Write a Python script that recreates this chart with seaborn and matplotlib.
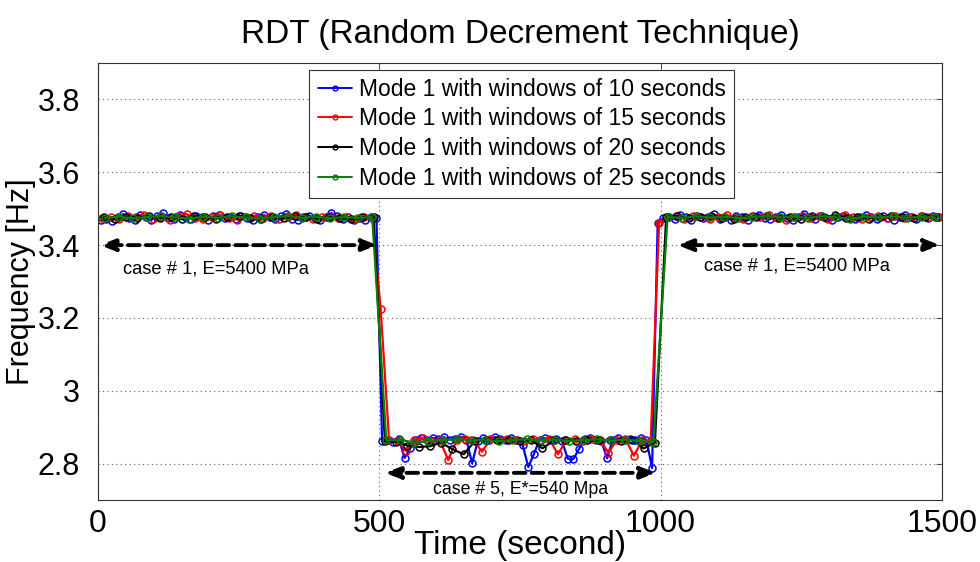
import numpy as np
import pandas as pd
import matplotlib
matplotlib.use("Agg")
import matplotlib.pyplot as plt
from matplotlib.lines import Line2D
import seaborn as sns

# Window centre times (s) for each window length
t_10 = np.arange(5, 1500, 10)
t_15 = np.arange(7.5, 1500, 15)
t_20 = np.arange(10, 1500, 20)
t_25 = np.arange(12.5, 1500, 25)

# Identified first-mode frequency (Hz), windows of 10 s
freq_10s = [
    3.468, 3.472, 3.466, 3.478, 3.485, 3.474, 3.470, 3.482, 3.476, 3.469,
    3.480, 3.487, 3.475, 3.471, 3.483, 3.478, 3.473, 3.481, 3.476, 3.470,
    3.479, 3.484, 3.474, 3.477, 3.472, 3.480, 3.475, 3.468, 3.478, 3.483,
    3.476, 3.471, 3.479, 3.485, 3.473, 3.469, 3.477, 3.481, 3.474, 3.470,
    3.478, 3.488, 3.479, 3.472, 3.476, 3.468, 3.474, 3.470, 3.477, 3.475,
    2.862, 2.866, 2.860, 2.868, 2.816, 2.842, 2.866, 2.870, 2.864, 2.871,
    2.868, 2.873, 2.866, 2.869, 2.874, 2.866, 2.801, 2.862, 2.870, 2.866,
    2.873, 2.868, 2.864, 2.870, 2.866, 2.851, 2.791, 2.827, 2.866, 2.870,
    2.864, 2.868, 2.862, 2.814, 2.813, 2.840, 2.868, 2.871, 2.866, 2.862,
    2.815, 2.866, 2.870, 2.864, 2.868, 2.866, 2.870, 2.866, 2.788, 3.462,
    3.474, 3.478, 3.471, 3.483, 3.476, 3.469, 3.480, 3.474, 3.478, 3.485,
    3.472, 3.477, 3.470, 3.481, 3.476, 3.468, 3.479, 3.484, 3.474, 3.471,
    3.477, 3.482, 3.475, 3.470, 3.478, 3.486, 3.476, 3.472, 3.479, 3.474,
    3.469, 3.477, 3.481, 3.475, 3.471, 3.478, 3.483, 3.476, 3.473, 3.480,
    3.475, 3.470, 3.478, 3.484, 3.476, 3.472, 3.479, 3.475, 3.481, 3.476,
]

# Windows of 15 s
freq_15s = [
    3.474, 3.478, 3.471, 3.480, 3.476, 3.483, 3.473, 3.477, 3.470, 3.479,
    3.485, 3.475, 3.472, 3.478, 3.482, 3.474, 3.470, 3.477, 3.481, 3.475,
    3.479, 3.473, 3.476, 3.483, 3.478, 3.471, 3.476, 3.480, 3.474, 3.477,
    3.472, 3.478, 3.475, 3.225,
    2.864, 2.862, 2.835, 2.866, 2.870, 2.862, 2.866, 2.810, 2.864, 2.868,
    2.865, 2.833, 2.867, 2.864, 2.869, 2.866, 2.862, 2.867, 2.864, 2.868,
    2.826, 2.864, 2.867, 2.863, 2.868, 2.865, 2.830, 2.866, 2.869, 2.822,
    2.864, 2.862, 3.462,
    3.476, 3.479, 3.473, 3.481, 3.477, 3.471, 3.478, 3.483, 3.475, 3.472,
    3.479, 3.476, 3.482, 3.474, 3.470, 3.477, 3.480, 3.475, 3.479, 3.473,
    3.476, 3.482, 3.477, 3.472, 3.478, 3.481, 3.475, 3.479, 3.474, 3.477,
    3.480, 3.476, 3.478,
]

# Windows of 20 s
freq_20s = [
    3.476, 3.473, 3.478, 3.475, 3.480, 3.474, 3.477, 3.471, 3.479, 3.476,
    3.473, 3.478, 3.481, 3.475, 3.472, 3.477, 3.474, 3.479, 3.476, 3.473,
    3.478, 3.475, 3.471, 3.476, 3.477,
    2.862, 2.860, 2.850, 2.846, 2.848, 2.858, 2.840, 2.826, 2.862, 2.866,
    2.864, 2.866, 2.862, 2.866, 2.842, 2.864, 2.866, 2.863, 2.866, 2.864,
    2.866, 2.863, 2.866, 2.842, 2.858,
    3.476, 3.479, 3.474, 3.477, 3.481, 3.475, 3.472, 3.478, 3.476, 3.480,
    3.474, 3.477, 3.473, 3.479, 3.476, 3.482, 3.475, 3.478, 3.473, 3.477,
    3.480, 3.476, 3.474, 3.478, 3.477,
]

# Windows of 25 s
freq_25s = [
    3.475, 3.478, 3.474, 3.477, 3.480, 3.476, 3.473, 3.478, 3.475, 3.479,
    3.476, 3.473, 3.477, 3.480, 3.475, 3.478, 3.474, 3.477, 3.475, 3.477,
    2.864, 2.866, 2.858, 2.862, 2.865, 2.867, 2.864, 2.866, 2.862, 2.865,
    2.867, 2.864, 2.866, 2.863, 2.865, 2.867, 2.864, 2.866, 2.863, 2.860,
    3.477, 3.475, 3.479, 3.476, 3.478, 3.474, 3.477, 3.480, 3.476, 3.478,
    3.475, 3.479, 3.476, 3.473, 3.478, 3.476, 3.479, 3.475, 3.477, 3.476,
]

labels = [
    "Mode 1 with windows of 10 seconds",
    "Mode 1 with windows of 15 seconds",
    "Mode 1 with windows of 20 seconds",
    "Mode 1 with windows of 25 seconds",
]
colors = ["#0000ff", "#ff0000", "#000000", "#008000"]

x_ticks = [0, 500, 1000, 1500]
y_ticks = [2.8, 3.0, 3.2, 3.4, 3.6, 3.8]
y_tick_labels = ["2.8", "3", "3.2", "3.4", "3.6", "3.8"]

df = pd.concat(
    [
        pd.DataFrame({"time": t, "freq": f, "series": lab})
        for t, f, lab in zip([t_10, t_15, t_20, t_25],
                             [freq_10s, freq_15s, freq_20s, freq_25s], labels)
    ],
    ignore_index=True,
)

sns.set_style("white")
plt.rcParams["font.family"] = ["Liberation Sans", "DejaVu Sans"]
plt.rcParams["text.color"] = "black"
plt.rcParams["axes.labelcolor"] = "black"
plt.rcParams["xtick.color"] = "black"
plt.rcParams["ytick.color"] = "black"

fig = plt.figure(figsize=(9.8, 5.62), dpi=100)
ax = fig.add_axes([0.1, 0.11, 0.861, 0.778])

sns.lineplot(
    data=df, x="time", y="freq", hue="series", hue_order=labels,
    palette=dict(zip(labels, colors)), estimator=None, sort=False,
    marker="o", markersize=5, linewidth=1.6, legend=False, ax=ax,
)
for line in ax.get_lines():
    line.set_markerfacecolor("none")
    line.set_markeredgecolor(line.get_color())
    line.set_markeredgewidth(1.1)

ax.set_xlim(0, 1500)
ax.set_ylim(2.7, 3.9)
ax.set_xticks(x_ticks)
ax.set_xticklabels([str(v) for v in x_ticks])
ax.set_yticks(y_ticks)
ax.set_yticklabels(y_tick_labels)
ax.tick_params(axis="both", labelsize=23, direction="in", length=4,
               top=True, right=True)
ax.tick_params(axis="both", which="major", color="#555555", labelcolor="black")
ax.tick_params(axis="y", pad=13, labelsize=22)
ax.tick_params(axis="x", pad=6)
ax.grid(True, linestyle=(0, (1, 3)), color="#606060", linewidth=0.8)
for sp in ax.spines.values():
    sp.set_color("#333333")
    sp.set_linewidth(0.8)

ax.set_title("RDT (Random Decrement Technique)", fontsize=24, pad=14)
ax.set_xlabel("Time (second)", fontsize=24)
ax.set_ylabel("Frequency [Hz]", fontsize=22)
ax.xaxis.set_label_coords(0.5, -0.068)
ax.yaxis.set_label_coords(-0.073, 0.5)

# Double-headed dashed arrows marking each test case
arrow_kw = dict(arrowstyle="<|-|>,head_length=0.9,head_width=0.35",
                color="black", lw=2.8, linestyle=(0, (3, 1.6)),
                shrinkA=0, shrinkB=0)
ax.annotate("", xy=(3, 3.4), xytext=(497, 3.4), arrowprops=arrow_kw)
ax.annotate("", xy=(1030, 3.4), xytext=(1497, 3.4), arrowprops=arrow_kw)
ax.annotate("", xy=(510, 2.775), xytext=(992, 2.775), arrowprops=arrow_kw)

ax.text(210, 3.335, "case # 1, E=5400 MPa", fontsize=13.2, ha="center", va="center")
ax.text(1243, 3.342, "case # 1, E=5400 MPa", fontsize=13.2, ha="center", va="center")
ax.text(752, 2.73, "case # 5, E*=540 Mpa", fontsize=12.8, ha="center", va="center")

handles = [Line2D([0], [0], color=c, lw=1.4, marker="o", markersize=3.5,
                  markerfacecolor="none", markeredgecolor=c, markeredgewidth=1.0)
           for c in colors]
leg = ax.legend(handles, labels, loc="upper center", bbox_to_anchor=(0.502, 0.985),
                fontsize=16.5, frameon=True, fancybox=False, framealpha=1,
                edgecolor="#333333", handlelength=1.5, handletextpad=0.3,
                labelspacing=0.3, borderpad=0.35, borderaxespad=0)
leg.get_frame().set_linewidth(0.8)

fig.savefig("out.png", dpi=100)
